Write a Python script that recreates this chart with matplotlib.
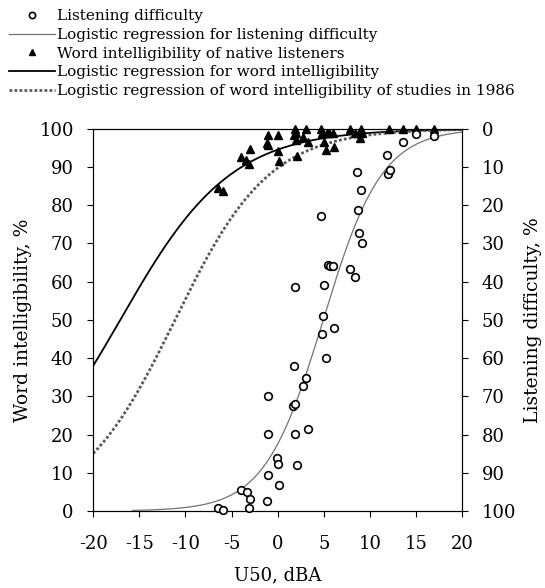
import numpy as np
import matplotlib.pyplot as plt
from matplotlib.lines import Line2D

plt.rcParams['font.family'] = 'DejaVu Serif'
plt.rcParams['axes.unicode_minus'] = False

# Listening difficulty points: U50 (dBA) and word intelligibility-axis height (%)
ld_x = [-6.5, -5.9, -4.0, -3.3, -3.0, -3.1, -1.2, -1.1, -1.0, -1.0, -0.05, 0.05, 0.15,
        1.7, 1.9, 1.8, 1.9, 2.1, 1.9, 2.75, 3.1, 3.26, 4.7, 4.8, 4.96, 5.0, 5.2,
        5.5, 5.7, 6.0, 6.1, 7.8, 8.4, 8.6, 8.7, 8.8, 9.0, 9.1, 11.9, 12.0, 12.2,
        13.6, 15.0, 16.9]
ld_up = [0.7, 0.2, 5.5, 5.0, 3.2, 0.7, 2.5, 30.2, 20.1, 9.3, 13.9, 12.4, 6.8,
         27.4, 27.9, 37.9, 20.1, 12.1, 58.6, 32.7, 34.8, 21.5, 77.1, 46.3, 50.9, 59.2, 40.1,
         64.4, 64.0, 64.0, 47.8, 63.2, 61.3, 88.8, 78.7, 72.8, 84.0, 70.2, 93.2, 88.1, 89.3,
         96.5, 98.6, 98.2]
ld_y = [100 - v for v in ld_up]  # listening difficulty, %

# Word intelligibility of native listeners
wi_x = [-6.5, -5.9, -4.0, -3.0, -3.4, -3.1, -1.0, 0.0, -1.15, -1.0, 0.0, 0.15,
        1.9, 1.96, 1.75, 1.96, 3.05, 2.75, 3.3, 2.1, 4.7, 4.8, 5.3, 5.6, 6.0,
        5.0, 5.2, 6.1, 7.8, 9.0, 8.4, 8.8, 9.1, 8.9, 12.1, 13.55, 15.0, 16.9]
wi_y = [84.5, 83.8, 92.7, 94.6, 91.7, 90.8, 98.4, 98.4, 96.3, 95.7, 94.1, 91.6,
        100, 99.0, 98.4, 97.1, 100, 97.8, 96.5, 92.8, 100, 98.9, 98.9, 98.9, 98.9,
        96.5, 94.5, 95.2, 100, 100, 98.9, 98.9, 98.9, 97.6, 100, 100, 100, 100]

# logistic regression coefficients (intercept, slope)
wi_fit = (2.85, 0.167)
old_fit = (2.17, 0.195)
ld_fit = (-1.55, 0.314)

def logistic(x, c):
    return 100 / (1 + np.exp(-(c[0] + c[1] * x)))

x_full = np.linspace(-20, 20, 300)
x_ld = np.linspace(-15.7, 20, 300)

fig = plt.figure(figsize=(5.45, 5.88), dpi=100)
ax = fig.add_axes([0.171, 0.131, 0.677, 0.650])
ax2 = ax.twinx()

ax.plot(x_full, logistic(x_full, wi_fit), color='black', lw=1.3)
ax.plot(x_full, logistic(x_full, old_fit), color='0.35', lw=2, linestyle=(0, (1, 0.8)))
ax.plot(wi_x, wi_y, '^', color='black', ms=6, clip_on=False, zorder=5)

ax2.plot(x_ld, 100 - logistic(x_ld, ld_fit), color='0.45', lw=0.9)
ax2.plot(ld_x, ld_y, 'o', mfc='white', mec='black', mew=1.2, ms=5.5, clip_on=False, zorder=5)

ax.set_xlim(-20, 20)
ax.set_ylim(0, 100)
ax2.set_ylim(100, 0)
ax.set_xticks(np.arange(-20, 21, 5))
ax.set_yticks(np.arange(0, 101, 10))
ax2.set_yticks(np.arange(0, 101, 10))
ax.tick_params(axis='x', labelsize=13, length=4, pad=13)
ax.tick_params(axis='y', labelsize=13, length=4, pad=10)
ax2.tick_params(labelsize=13, length=4, pad=10)
ax.set_xlabel('U50, dBA', fontsize=13, labelpad=10)
ax.set_ylabel('Word intelligibility, %', fontsize=13.5, labelpad=5)
ax2.set_ylabel('Listening difficulty, %', fontsize=13.5, labelpad=6)

handles = [
    Line2D([], [], ls='none', marker='o', mfc='white', mec='black', mew=1.2, ms=4.5),
    Line2D([], [], color='0.45', lw=0.9),
    Line2D([], [], ls='none', marker='^', color='black', ms=4.5),
    Line2D([], [], color='black', lw=1.3),
    Line2D([], [], color='0.35', lw=2, linestyle=(0, (1, 0.8))),
]
labels = ['Listening difficulty',
          'Logistic regression for listening difficulty',
          'Word intelligibility of native listeners',
          'Logistic regression for word intelligibility',
          'Logistic regression of word intelligibility of studies in 1986']
fig.legend(handles, labels, loc='upper left', bbox_to_anchor=(0.0, 1.0), frameon=False,
           fontsize=11, handlelength=3.0, handletextpad=0.1, labelspacing=0.31,
           borderaxespad=0.2)

fig.savefig('out.png', dpi=100)
